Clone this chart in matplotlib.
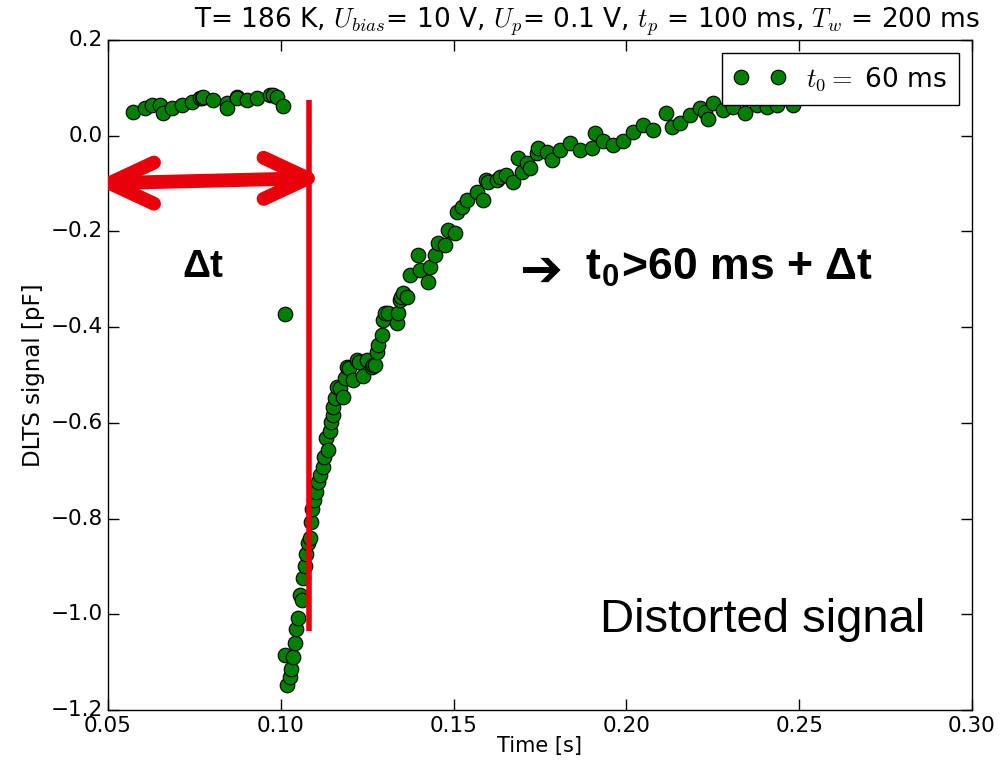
import numpy as np
import matplotlib
matplotlib.use("Agg")
import matplotlib.pyplot as plt

# ── Données (temps [s], signal DLTS [pF]) ──────────────────────────────────────
t_before = [0.0573, 0.0607, 0.0626, 0.0650, 0.0660, 0.0684, 0.0713, 0.0742,
            0.0766, 0.0771, 0.0776, 0.0805, 0.0843, 0.0844, 0.0872, 0.0873,
            0.0901, 0.0930, 0.0969, 0.0977, 0.0988, 0.1005]
s_before = [0.050, 0.057, 0.064, 0.064, 0.047, 0.057, 0.064, 0.071,
            0.079, 0.078, 0.081, 0.075, 0.068, 0.058, 0.081, 0.079,
            0.075, 0.078, 0.085, 0.085, 0.081, 0.062]

t_outlier = [0.1012]
s_outlier = [-0.372]

t_after = [0.1012, 0.1017, 0.1027, 0.1029, 0.1034, 0.1041, 0.1044, 0.1051,
           0.1056, 0.1060, 0.1065, 0.1070, 0.1073, 0.1080, 0.1084, 0.1086,
           0.1089, 0.1097, 0.1102, 0.1109, 0.1113, 0.1121, 0.1125, 0.1132,
           0.1137, 0.1142, 0.1144, 0.1150, 0.1152, 0.1157, 0.1162, 0.1172,
           0.1181, 0.1186, 0.1191, 0.1196, 0.1210, 0.1220, 0.1225, 0.1239,
           0.1249, 0.1263, 0.1268, 0.1273, 0.1278, 0.1282, 0.1292, 0.1297,
           0.1301, 0.1311, 0.1335, 0.1340, 0.1345, 0.1349, 0.1354, 0.1364,
           0.1374, 0.1398, 0.1403, 0.1427, 0.1432, 0.1446, 0.1456, 0.1475,
           0.1484, 0.1504, 0.1509, 0.1523, 0.1538, 0.1567, 0.1586, 0.1595,
           0.1600, 0.1625, 0.1634, 0.1653, 0.1673, 0.1687, 0.1697, 0.1711,
           0.1721, 0.1741, 0.1745, 0.1769, 0.1784, 0.1808, 0.1837, 0.1866,
           0.1900, 0.1909, 0.1933, 0.1962, 0.1991, 0.2020, 0.2049, 0.2078,
           0.2116, 0.2131, 0.2155, 0.2184, 0.2213, 0.2228, 0.2237, 0.2251,
           0.2280, 0.2309, 0.2343, 0.2377, 0.2406, 0.2435, 0.2482]
s_after = [-1.085, -1.148, -1.130, -1.115, -1.089, -1.061, -1.031, -1.008,
           -0.960, -0.970, -0.925, -0.900, -0.873, -0.852, -0.841, -0.807,
           -0.781, -0.762, -0.744, -0.723, -0.709, -0.692, -0.671, -0.632,
           -0.657, -0.618, -0.598, -0.584, -0.566, -0.549, -0.524, -0.528,
           -0.545, -0.507, -0.483, -0.486, -0.510, -0.469, -0.472, -0.503,
           -0.469, -0.483, -0.479, -0.479, -0.451, -0.437, -0.416, -0.385,
           -0.371, -0.371, -0.392, -0.371, -0.343, -0.336, -0.329, -0.336,
           -0.291, -0.249, -0.281, -0.305, -0.274, -0.249, -0.225, -0.228,
           -0.197, -0.204, -0.159, -0.148, -0.134, -0.117, -0.134, -0.093,
           -0.096, -0.093, -0.086, -0.082, -0.096, -0.047, -0.075, -0.058,
           -0.068, -0.037, -0.026, -0.033, -0.051, -0.030, -0.016, -0.030,
           -0.026, 0.005, -0.012, -0.019, -0.012, 0.008, 0.022, 0.012,
           0.047, 0.019, 0.026, 0.043, 0.057, 0.050, 0.036, 0.068,
           0.054, 0.061, 0.047, 0.064, 0.061, 0.064, 0.064]

t_pulse_end = 0.1082          # ligne rouge verticale
arrow_y = (-0.099, -0.089)    # flèche Δt (gauche, droite)

t = np.array(t_before + t_outlier + t_after)
s = np.array(s_before + s_outlier + s_after)

RED = "#e8000b"

# ── Figure ─────────────────────────────────────────────────────────────────────
plt.style.use("classic")
plt.rcParams["mathtext.fontset"] = "cm"
plt.rcParams["font.family"] = "DejaVu Sans"

fig = plt.figure(figsize=(10.05, 7.71), dpi=100, facecolor="white")
ax = fig.add_axes([0.1075, 0.0791, 0.8596, 0.8690])

ax.plot(t, s, "o", color="green", markeredgecolor="black", markeredgewidth=0.8,
        markersize=10.5, label=r"$t_0 =$ 60 ms")

ax.set_xlim(0.05, 0.30)
ax.set_ylim(-1.2, 0.2)
ax.set_xticks(np.arange(0.05, 0.301, 0.05))
ax.set_yticks(np.arange(-1.2, 0.201, 0.2))
ax.tick_params(labelsize=15.5, length=8, width=1)
ax.set_xlabel("Time [s]", fontsize=15, labelpad=0)
ax.set_ylabel("DLTS signal [pF]", fontsize=16.5, labelpad=4)
ax.text(0.555, 1.027, r"T= 186 K, $U_{bias}$= 10 V, $U_p$= 0.1 V, $t_p$ = 100 ms, $T_w$ = 200 ms",
        transform=ax.transAxes, fontsize=19, ha="center", va="center")

leg = ax.legend(loc="upper right", numpoints=2, fontsize=19, fancybox=False,
                borderaxespad=0.5, handletextpad=0.75, borderpad=0.45,
                handlelength=2.0)
leg.get_frame().set_edgecolor("black")

# ── Annotations ────────────────────────────────────────────────────────────────
ax.plot([t_pulse_end, t_pulse_end], [0.075, -1.034], color=RED, lw=4,
        solid_capstyle="butt", zorder=4)

# flèche double Δt : tige + chevrons ouverts à bouts ronds
x_left, x_right = 0.0505, t_pulse_end - 0.0004
head_dx, head_dy = 0.0128, 0.043
arrow_kw = dict(color=RED, lw=10, solid_capstyle="round", solid_joinstyle="round",
                zorder=5)
ax.plot([x_left, x_right], arrow_y, **arrow_kw)
ax.plot([x_left + head_dx, x_left, x_left + head_dx],
        [arrow_y[0] + head_dy, arrow_y[0], arrow_y[0] - head_dy], **arrow_kw)
ax.plot([x_right - head_dx, x_right, x_right - head_dx],
        [arrow_y[1] + head_dy, arrow_y[1], arrow_y[1] - head_dy], **arrow_kw)

ax.text(0.0775, -0.275, "\u0394t", fontsize=28, fontweight="bold",
        family="Liberation Sans", ha="center", va="center")
ax.text(0.1753, -0.285, "\u2794", fontsize=37, fontweight="bold",
        family="DejaVu Sans", ha="center", va="center")
ax.text(0.2298, -0.275, "t$_\\mathregular{0}$>60 ms + \u0394t",
        fontsize=32, fontweight="bold", family="Liberation Sans",
        ha="center", va="center")
ax.text(0.2393, -1.012, "Distorted signal", fontsize=34, family="Liberation Sans",
        ha="center", va="center")

fig.savefig("out.png", dpi=100, facecolor="white")
plt.close(fig)
